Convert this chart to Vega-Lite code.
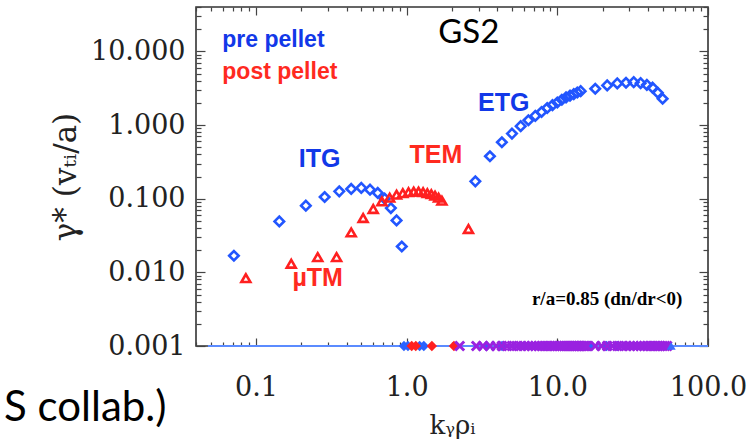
{
 "$schema": "https://vega.github.io/schema/vega-lite/v6.json",
 "width": 512,
 "height": 339,
 "autosize": {"type": "none"},
 "padding": {"left": 196, "top": 7, "right": 43, "bottom": 100},
 "background": "white",
 "config": {
  "view": {"stroke": "#333333", "strokeWidth": 1.6},
  "axis": {"grid": false, "domain": false, "labelOverlap": false, "labelFlush": false, "tickColor": "#444444", "tickWidth": 1.2}
 },
 "datasets": {
  "base": [{"k": 0.048, "g": 0.001}, {"k": 100, "g": 0.001}],
  "pts": [
   {"s": "pre", "k": 0.0714, "g": 0.0168},
   {"s": "pre", "k": 0.1429, "g": 0.0491},
   {"s": "pre", "k": 0.2143, "g": 0.0804},
   {"s": "pre", "k": 0.2857, "g": 0.1054},
   {"s": "pre", "k": 0.3571, "g": 0.1257},
   {"s": "pre", "k": 0.4286, "g": 0.1355},
   {"s": "pre", "k": 0.5, "g": 0.1399},
   {"s": "pre", "k": 0.5714, "g": 0.1326},
   {"s": "pre", "k": 0.6429, "g": 0.1196},
   {"s": "pre", "k": 0.7143, "g": 0.100},
   {"s": "pre", "k": 0.7857, "g": 0.0746},
   {"s": "pre", "k": 0.8571, "g": 0.0507},
   {"s": "pre", "k": 0.9286, "g": 0.0224},
   {"s": "pre", "k": 2.857, "g": 0.172},
   {"s": "pre", "k": 3.571, "g": 0.377},
   {"s": "pre", "k": 4.286, "g": 0.583},
   {"s": "pre", "k": 5.0, "g": 0.765},
   {"s": "pre", "k": 5.714, "g": 0.964},
   {"s": "pre", "k": 6.429, "g": 1.16},
   {"s": "pre", "k": 7.143, "g": 1.33},
   {"s": "pre", "k": 7.857, "g": 1.50},
   {"s": "pre", "k": 8.571, "g": 1.70},
   {"s": "pre", "k": 9.286, "g": 1.86},
   {"s": "pre", "k": 10.0, "g": 2.02},
   {"s": "pre", "k": 10.714, "g": 2.20},
   {"s": "pre", "k": 11.429, "g": 2.37},
   {"s": "pre", "k": 12.143, "g": 2.50},
   {"s": "pre", "k": 12.857, "g": 2.63},
   {"s": "pre", "k": 13.571, "g": 2.76},
   {"s": "pre", "k": 14.286, "g": 2.88},
   {"s": "pre", "k": 17.857, "g": 3.11},
   {"s": "pre", "k": 21.43, "g": 3.45},
   {"s": "pre", "k": 25.0, "g": 3.67},
   {"s": "pre", "k": 28.57, "g": 3.75},
   {"s": "pre", "k": 32.14, "g": 3.82},
   {"s": "pre", "k": 35.71, "g": 3.70},
   {"s": "pre", "k": 39.29, "g": 3.50},
   {"s": "pre", "k": 42.86, "g": 3.21},
   {"s": "pre", "k": 46.43, "g": 2.74},
   {"s": "pre", "k": 50.0, "g": 2.27},
   {"s": "post", "k": 0.0857, "g": 0.00834},
   {"s": "post", "k": 0.1714, "g": 0.01306},
   {"s": "post", "k": 0.2571, "g": 0.0161},
   {"s": "post", "k": 0.3429, "g": 0.0161},
   {"s": "post", "k": 0.4286, "g": 0.0348},
   {"s": "post", "k": 0.5143, "g": 0.0547},
   {"s": "post", "k": 0.6, "g": 0.0724},
   {"s": "post", "k": 0.6857, "g": 0.0919},
   {"s": "post", "k": 0.7714, "g": 0.1031},
   {"s": "post", "k": 0.8571, "g": 0.1133},
   {"s": "post", "k": 0.9429, "g": 0.1188},
   {"s": "post", "k": 1.0286, "g": 0.1226},
   {"s": "post", "k": 1.1143, "g": 0.1246},
   {"s": "post", "k": 1.2, "g": 0.1246},
   {"s": "post", "k": 1.2857, "g": 0.1226},
   {"s": "post", "k": 1.3714, "g": 0.1188},
   {"s": "post", "k": 1.4571, "g": 0.1151},
   {"s": "post", "k": 1.5429, "g": 0.1099},
   {"s": "post", "k": 1.6286, "g": 0.1031},
   {"s": "post", "k": 1.7143, "g": 0.0939},
   {"s": "post", "k": 2.5714, "g": 0.0387},
   {"s": "pre0", "k": 0.96, "g": 0.001},
   {"s": "pre0", "k": 1.02, "g": 0.001},
   {"s": "pre0", "k": 1.22, "g": 0.001},
   {"s": "pre0", "k": 1.30, "g": 0.001},
   {"s": "pre0", "k": 3.39, "g": 0.001},
   {"s": "pre0", "k": 4.3, "g": 0.001},
   {"s": "pre0", "k": 16.4, "g": 0.001},
   {"s": "pre0", "k": 21.2, "g": 0.001},
   {"s": "pre0", "k": 25.0, "g": 0.001},
   {"s": "post0", "k": 1.08, "g": 0.001},
   {"s": "post0", "k": 1.15, "g": 0.001},
   {"s": "post0", "k": 1.47, "g": 0.001},
   {"s": "post0", "k": 2.06, "g": 0.001},
   {"s": "both0", "k": 2.25, "g": 0.001},
   {"s": "both0", "k": 2.90, "g": 0.001},
   {"s": "both0", "k": 3.21, "g": 0.001},
   {"s": "both0", "k": 3.57, "g": 0.001},
   {"s": "both0", "k": 3.93, "g": 0.001},
   {"s": "both0", "k": 4.29, "g": 0.001},
   {"s": "both0", "k": 4.64, "g": 0.001},
   {"s": "both0", "k": 5.0, "g": 0.001},
   {"s": "both0", "k": 5.36, "g": 0.001},
   {"s": "both0", "k": 5.71, "g": 0.001},
   {"s": "both0", "k": 6.07, "g": 0.001},
   {"s": "both0", "k": 6.43, "g": 0.001},
   {"s": "both0", "k": 6.79, "g": 0.001},
   {"s": "both0", "k": 7.14, "g": 0.001},
   {"s": "both0", "k": 7.5, "g": 0.001},
   {"s": "both0", "k": 7.86, "g": 0.001},
   {"s": "both0", "k": 8.21, "g": 0.001},
   {"s": "both0", "k": 8.57, "g": 0.001},
   {"s": "both0", "k": 8.93, "g": 0.001},
   {"s": "both0", "k": 9.29, "g": 0.001},
   {"s": "both0", "k": 9.64, "g": 0.001},
   {"s": "both0", "k": 10.0, "g": 0.001},
   {"s": "both0", "k": 10.36, "g": 0.001},
   {"s": "both0", "k": 10.71, "g": 0.001},
   {"s": "both0", "k": 11.07, "g": 0.001},
   {"s": "both0", "k": 11.43, "g": 0.001},
   {"s": "both0", "k": 11.79, "g": 0.001},
   {"s": "both0", "k": 12.14, "g": 0.001},
   {"s": "both0", "k": 12.5, "g": 0.001},
   {"s": "both0", "k": 12.86, "g": 0.001},
   {"s": "both0", "k": 13.21, "g": 0.001},
   {"s": "both0", "k": 13.57, "g": 0.001},
   {"s": "both0", "k": 13.93, "g": 0.001},
   {"s": "both0", "k": 14.29, "g": 0.001},
   {"s": "both0", "k": 14.64, "g": 0.001},
   {"s": "both0", "k": 15.0, "g": 0.001},
   {"s": "both0", "k": 15.36, "g": 0.001},
   {"s": "both0", "k": 15.71, "g": 0.001},
   {"s": "both0", "k": 17.86, "g": 0.001},
   {"s": "both0", "k": 19.64, "g": 0.001},
   {"s": "both0", "k": 21.43, "g": 0.001},
   {"s": "both0", "k": 23.21, "g": 0.001},
   {"s": "both0", "k": 25.0, "g": 0.001},
   {"s": "both0", "k": 26.79, "g": 0.001},
   {"s": "both0", "k": 28.57, "g": 0.001},
   {"s": "both0", "k": 30.36, "g": 0.001},
   {"s": "both0", "k": 32.14, "g": 0.001},
   {"s": "both0", "k": 33.93, "g": 0.001},
   {"s": "both0", "k": 35.71, "g": 0.001},
   {"s": "both0", "k": 37.5, "g": 0.001},
   {"s": "both0", "k": 39.29, "g": 0.001},
   {"s": "both0", "k": 41.07, "g": 0.001},
   {"s": "both0", "k": 42.86, "g": 0.001},
   {"s": "both0", "k": 44.64, "g": 0.001},
   {"s": "both0", "k": 46.43, "g": 0.001},
   {"s": "both0", "k": 48.21, "g": 0.001},
   {"s": "both0", "k": 50.0, "g": 0.001},
   {"s": "both0", "k": 51.79, "g": 0.001},
   {"s": "both0", "k": 53.57, "g": 0.001},
   {"s": "tri0", "k": 57.0, "g": 0.001}
  ],
  "txt": [
   {"kind": "title", "k": 2.586, "g": 17.6, "t": "GS2"},
   {"kind": "legblue", "k": 0.0598, "g": 14.1, "t": "pre pellet"},
   {"kind": "legred", "k": 0.0598, "g": 5.26, "t": "post pellet"},
   {"kind": "labblue", "k": 4.41, "g": 2.02, "t": "ETG"},
   {"kind": "labblue", "k": 0.2646, "g": 0.35, "t": "ITG"},
   {"kind": "labred", "k": 1.563, "g": 0.397, "t": "TEM"},
   {"kind": "labred", "k": 0.2566, "g": 0.00842, "t": "µTM"},
   {"kind": "note", "k": 67.6, "g": 0.00436, "t": "r/a=0.85 (dn/dr<0)"},
   {"kind": "slide", "k": 0.02547, "g": 0.0000954, "t": "S collab.)"}
  ]
 },
 "resolve": {"axis": {"x": "independent", "y": "independent"}},
 "layer": [
  {
   "data": {"name": "base"},
   "mark": {"type": "line", "color": "#5b8bff", "strokeWidth": 2},
   "encoding": {
    "x": {"field": "k", "type": "quantitative", "scale": {"type": "log", "domain": [0.04, 100], "nice": false},
     "axis": {"orient": "top", "values": [0.04,0.05,0.06,0.07,0.08,0.09,0.1,0.2,0.3,0.4,0.5,0.6,0.7,0.8,0.9,1,2,3,4,5,6,7,8,9,10,20,30,40,50,60,70,80,90,100], "labels": false, "title": null,
      "tickSize": {"condition": {"test": "abs(log(datum.value)/LN10 - round(log(datum.value)/LN10)) < 0.001", "value": -8}, "value": -4}}},
    "y": {"field": "g", "type": "quantitative", "scale": {"type": "log", "domain": [0.001, 40], "nice": false},
     "axis": {"orient": "right", "values": [0.001,0.002,0.003,0.004,0.005,0.006,0.007,0.008,0.009,0.01,0.02,0.03,0.04,0.05,0.06,0.07,0.08,0.09,0.1,0.2,0.3,0.4,0.5,0.6,0.7,0.8,0.9,1,2,3,4,5,6,7,8,9,10,20,30,40], "labels": false, "title": null,
      "tickSize": {"condition": {"test": "abs(log(datum.value)/LN10 - round(log(datum.value)/LN10)) < 0.001", "value": -9}, "value": -5}}}
   }
  },
  {
   "data": {"name": "pts"},
   "transform": [{"filter": "datum.s == 'pre'"}],
   "mark": {"type": "point", "shape": "diamond", "filled": false, "color": "#2256ff", "strokeWidth": 2.6, "size": 90, "opacity": 1},
   "encoding": {
    "x": {"field": "k", "type": "quantitative", "scale": {"type": "log", "domain": [0.04, 100], "nice": false},
     "axis": {"orient": "bottom", "values": [0.04,0.05,0.06,0.07,0.08,0.09,0.1,0.2,0.3,0.4,0.5,0.6,0.7,0.8,0.9,1,2,3,4,5,6,7,8,9,10,20,30,40,50,60,70,80,90,100],
      "labelExpr": "abs(log(datum.value)/LN10 - round(log(datum.value)/LN10)) < 0.001 ? format(datum.value, '.1f') : ''",
      "tickSize": {"condition": {"test": "abs(log(datum.value)/LN10 - round(log(datum.value)/LN10)) < 0.001", "value": -8}, "value": -4},
      "labelFont": "DejaVu Serif", "labelFontSize": 27, "labelColor": "#222222", "labelPadding": 36,
      "title": "kᵧρᵢ", "titleFont": "DejaVu Serif", "titleFontSize": 26, "titleFontWeight": "normal", "titleColor": "#222222", "titlePadding": 8}},
    "y": {"field": "g", "type": "quantitative", "scale": {"type": "log", "domain": [0.001, 40], "nice": false},
     "axis": {"orient": "left", "values": [0.001,0.002,0.003,0.004,0.005,0.006,0.007,0.008,0.009,0.01,0.02,0.03,0.04,0.05,0.06,0.07,0.08,0.09,0.1,0.2,0.3,0.4,0.5,0.6,0.7,0.8,0.9,1,2,3,4,5,6,7,8,9,10,20,30,40],
      "labelExpr": "abs(log(datum.value)/LN10 - round(log(datum.value)/LN10)) < 0.001 ? format(datum.value, '.3f') : ''",
      "tickSize": {"condition": {"test": "abs(log(datum.value)/LN10 - round(log(datum.value)/LN10)) < 0.001", "value": -9}, "value": -5},
      "labelFont": "DejaVu Serif", "labelFontSize": 27, "labelColor": "#222222", "labelPadding": 20,
      "title": "γ* (vₜᵢ/a)", "titleFont": "DejaVu Serif", "titleFontSize": 31, "titleFontWeight": "normal", "titleColor": "#222222", "titlePadding": 8}}
   }
  },
  {
   "data": {"name": "pts"},
   "transform": [{"filter": "datum.s == 'post'"}],
   "mark": {"type": "point", "shape": "triangle-up", "filled": false, "color": "#ff2020", "strokeWidth": 2.6, "size": 80, "opacity": 1},
   "encoding": {
    "x": {"field": "k", "type": "quantitative", "scale": {"type": "log", "domain": [0.04, 100], "nice": false}, "axis": null},
    "y": {"field": "g", "type": "quantitative", "scale": {"type": "log", "domain": [0.001, 40], "nice": false}, "axis": null}
   }
  },
  {
   "data": {"name": "pts"},
   "transform": [{"filter": "datum.s == 'pre0'"}],
   "mark": {"type": "point", "shape": "diamond", "filled": true, "color": "#2a62ff", "size": 110, "opacity": 1},
   "encoding": {
    "x": {"field": "k", "type": "quantitative", "scale": {"type": "log", "domain": [0.04, 100], "nice": false}, "axis": null},
    "y": {"field": "g", "type": "quantitative", "scale": {"type": "log", "domain": [0.001, 40], "nice": false}, "axis": null}
   }
  },
  {
   "data": {"name": "pts"},
   "transform": [{"filter": "datum.s == 'post0'"}],
   "mark": {"type": "point", "shape": "diamond", "filled": true, "color": "#ff2020", "size": 110, "opacity": 1},
   "encoding": {
    "x": {"field": "k", "type": "quantitative", "scale": {"type": "log", "domain": [0.04, 100], "nice": false}, "axis": null},
    "y": {"field": "g", "type": "quantitative", "scale": {"type": "log", "domain": [0.001, 40], "nice": false}, "axis": null}
   }
  },
  {
   "data": {"name": "pts"},
   "transform": [{"filter": "datum.s == 'both0'"}],
   "mark": {"type": "point", "shape": "M-1,-1L1,1M-1,1L1,-1", "filled": false, "color": "#9a22e0", "strokeWidth": 3, "size": 80, "opacity": 1},
   "encoding": {
    "x": {"field": "k", "type": "quantitative", "scale": {"type": "log", "domain": [0.04, 100], "nice": false}, "axis": null},
    "y": {"field": "g", "type": "quantitative", "scale": {"type": "log", "domain": [0.001, 40], "nice": false}, "axis": null}
   }
  },
  {
   "data": {"name": "pts"},
   "transform": [{"filter": "datum.s == 'tri0'"}],
   "mark": {"type": "point", "shape": "triangle-up", "filled": true, "color": "#3a6cff", "size": 80, "opacity": 1},
   "encoding": {
    "x": {"field": "k", "type": "quantitative", "scale": {"type": "log", "domain": [0.04, 100], "nice": false}, "axis": null},
    "y": {"field": "g", "type": "quantitative", "scale": {"type": "log", "domain": [0.001, 40], "nice": false}, "axis": null}
   }
  },
  {
   "data": {"name": "txt"},
   "transform": [{"filter": "datum.kind == 'title'"}],
   "mark": {"type": "text", "font": "Lato", "fontSize": 33, "color": "#000000", "align": "center", "baseline": "middle"},
   "encoding": {
    "x": {"field": "k", "type": "quantitative", "scale": {"type": "log", "domain": [0.04, 100], "nice": false}, "axis": null},
    "y": {"field": "g", "type": "quantitative", "scale": {"type": "log", "domain": [0.001, 40], "nice": false}, "axis": null},
    "text": {"field": "t"}
   }
  },
  {
   "data": {"name": "txt"},
   "transform": [{"filter": "datum.kind == 'legblue'"}],
   "mark": {"type": "text", "font": "Liberation Sans", "fontWeight": "bold", "fontSize": 23, "color": "#1238e8", "align": "left", "baseline": "middle"},
   "encoding": {
    "x": {"field": "k", "type": "quantitative", "scale": {"type": "log", "domain": [0.04, 100], "nice": false}, "axis": null},
    "y": {"field": "g", "type": "quantitative", "scale": {"type": "log", "domain": [0.001, 40], "nice": false}, "axis": null},
    "text": {"field": "t"}
   }
  },
  {
   "data": {"name": "txt"},
   "transform": [{"filter": "datum.kind == 'legred'"}],
   "mark": {"type": "text", "font": "Liberation Sans", "fontWeight": "bold", "fontSize": 23, "color": "#ff2a1f", "align": "left", "baseline": "middle"},
   "encoding": {
    "x": {"field": "k", "type": "quantitative", "scale": {"type": "log", "domain": [0.04, 100], "nice": false}, "axis": null},
    "y": {"field": "g", "type": "quantitative", "scale": {"type": "log", "domain": [0.001, 40], "nice": false}, "axis": null},
    "text": {"field": "t"}
   }
  },
  {
   "data": {"name": "txt"},
   "transform": [{"filter": "datum.kind == 'labblue'"}],
   "mark": {"type": "text", "font": "Liberation Sans", "fontWeight": "bold", "fontSize": 25, "color": "#1238e8", "align": "center", "baseline": "middle"},
   "encoding": {
    "x": {"field": "k", "type": "quantitative", "scale": {"type": "log", "domain": [0.04, 100], "nice": false}, "axis": null},
    "y": {"field": "g", "type": "quantitative", "scale": {"type": "log", "domain": [0.001, 40], "nice": false}, "axis": null},
    "text": {"field": "t"}
   }
  },
  {
   "data": {"name": "txt"},
   "transform": [{"filter": "datum.kind == 'labred'"}],
   "mark": {"type": "text", "font": "Liberation Sans", "fontWeight": "bold", "fontSize": 25, "color": "#ff2a1f", "align": "center", "baseline": "middle"},
   "encoding": {
    "x": {"field": "k", "type": "quantitative", "scale": {"type": "log", "domain": [0.04, 100], "nice": false}, "axis": null},
    "y": {"field": "g", "type": "quantitative", "scale": {"type": "log", "domain": [0.001, 40], "nice": false}, "axis": null},
    "text": {"field": "t"}
   }
  },
  {
   "data": {"name": "txt"},
   "transform": [{"filter": "datum.kind == 'note'"}],
   "mark": {"type": "text", "font": "Liberation Serif", "fontWeight": "bold", "fontSize": 19, "color": "#000000", "align": "right", "baseline": "middle"},
   "encoding": {
    "x": {"field": "k", "type": "quantitative", "scale": {"type": "log", "domain": [0.04, 100], "nice": false}, "axis": null},
    "y": {"field": "g", "type": "quantitative", "scale": {"type": "log", "domain": [0.001, 40], "nice": false}, "axis": null},
    "text": {"field": "t"}
   }
  },
  {
   "data": {"name": "txt"},
   "transform": [{"filter": "datum.kind == 'slide'"}],
   "mark": {"type": "text", "font": "Lato", "fontSize": 42, "color": "#000000", "align": "right", "baseline": "alphabetic"},
   "encoding": {
    "x": {"field": "k", "type": "quantitative", "scale": {"type": "log", "domain": [0.04, 100], "nice": false}, "axis": null},
    "y": {"field": "g", "type": "quantitative", "scale": {"type": "log", "domain": [0.001, 40], "nice": false}, "axis": null},
    "text": {"field": "t"}
   }
  }
 ]
}
